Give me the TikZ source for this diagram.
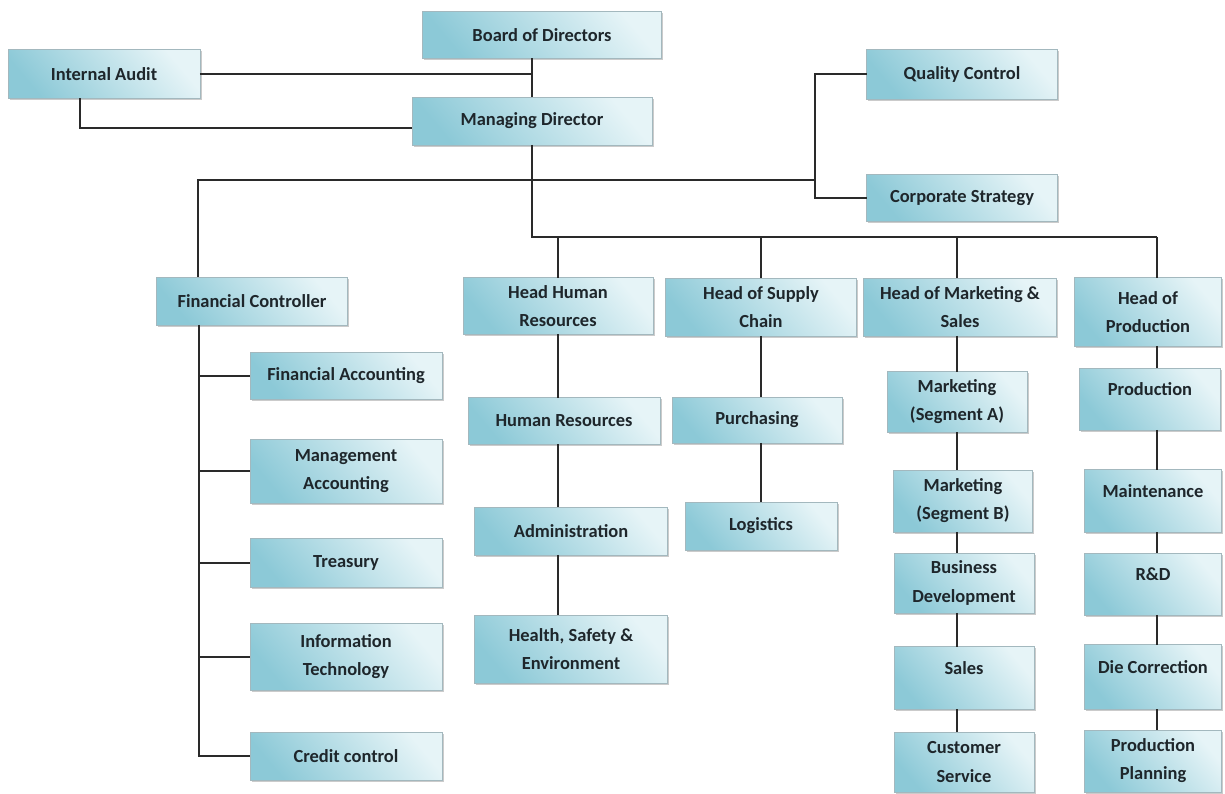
\documentclass[tikz,border=0pt]{standalone}
\usepackage{fontspec}
\setmainfont{Carlito}
\usetikzlibrary{shadows}
\definecolor{boxdark}{HTML}{8CC9D7}
\definecolor{boxlight}{HTML}{E6F4F7}
\definecolor{boxedge}{HTML}{A3B8BE}
\definecolor{linegray}{HTML}{2A2A2A}
\definecolor{textgray}{HTML}{1E262B}
\begin{document}
\begin{tikzpicture}[x=0.02cm,y=-0.02cm]
        \tikzstyle{unit}=[rectangle,draw=boxedge,line width=0.4pt,top color=boxlight,bottom color=boxdark,shading angle=-50,
                drop shadow={shadow xshift=1.1pt,shadow yshift=-1.1pt,fill=black!45,opacity=0.45},
                font=\fontsize{10.5}{16}\selectfont\bfseries,text=textgray,align=center,inner sep=2pt,outer sep=0pt]
        \tikzstyle{upper}=[text depth=11pt]
        \tikzstyle{link}=[draw,line width=0.9pt,linegray]
        \useasboundingbox (0,0) rectangle (1225,794);
        % top of the chart
        \node [unit,minimum width=4.78cm,minimum height=0.94cm] (bod) at (542,35) {Board of Directors};
        \node [unit,minimum width=3.84cm,minimum height=0.98cm] (ia) at (104,74) {Internal Audit};
        \node [unit,minimum width=4.80cm,minimum height=0.96cm] (md) at (532,121) {Managing Director};
        \node [unit,minimum width=3.82cm,minimum height=1.00cm] (qc) at (962,74) {Quality Control};
        \node [unit,minimum width=3.82cm,minimum height=0.94cm] (cs) at (962,198) {Corporate Strategy};
        % finance
        \node [unit,minimum width=3.82cm,minimum height=0.96cm] (fc) at (252,301) {Financial Controller};
        \node [unit,minimum width=3.84cm,minimum height=0.94cm] (fa) at (346,376) {Financial Accounting};
        \node [unit,minimum width=3.84cm,minimum height=1.28cm] (ma) at (346,471) {Management\\Accounting};
        \node [unit,minimum width=3.84cm,minimum height=0.98cm] (tr) at (346,563) {Treasury};
        \node [unit,minimum width=3.84cm,minimum height=1.34cm] (it) at (346,657) {Information\\Technology};
        \node [unit,minimum width=3.84cm,minimum height=0.96cm] (cc) at (346,756) {Credit control};
        % human resources
        \node [unit,minimum width=3.80cm,minimum height=1.14cm] (hhr) at (558,306) {Head Human\\Resources};
        \node [unit,minimum width=3.84cm,minimum height=0.94cm] (hr) at (564,421) {Human Resources};
        \node [unit,minimum width=3.86cm,minimum height=0.96cm] (ad) at (571,531) {Administration};
        \node [unit,minimum width=3.86cm,minimum height=1.36cm] (hse) at (571,649) {Health, Safety \&\\Environment};
        % supply chain
        \node [unit,minimum width=3.82cm,minimum height=1.16cm] (hsc) at (761,307) {Head of Supply\\Chain};
        \node [unit,minimum width=3.40cm,minimum height=0.92cm] (pu) at (757,420) {Purchasing};
        \node [unit,minimum width=3.04cm,minimum height=0.96cm] (lo) at (761,526) {Logistics};
        % marketing and sales
        \node [unit,minimum width=3.86cm,minimum height=1.16cm] (hms) at (960,307) {Head of Marketing \&\\Sales};
        \node [unit,minimum width=2.80cm,minimum height=1.22cm] (msa) at (957,402) {Marketing\\(Segment A)};
        \node [unit,minimum width=2.78cm,minimum height=1.24cm] (msb) at (963,501) {Marketing\\(Segment B)};
        \node [unit,minimum width=2.80cm,minimum height=1.20cm] (bd) at (964,583) {Business\\Development};
        \node [unit,upper,minimum width=2.80cm,minimum height=1.26cm] (sa) at (964,678) {Sales};
        \node [unit,minimum width=2.80cm,minimum height=1.20cm] (csv) at (964,762) {Customer\\Service};
        % production
        \node [unit,minimum width=2.94cm,minimum height=1.38cm] (hp) at (1148,312) {Head of\\Production};
        \node [unit,upper,minimum width=2.82cm,minimum height=1.24cm] (pr) at (1150,399) {Production};
        \node [unit,upper,minimum width=2.74cm,minimum height=1.26cm] (mt) at (1153,501) {Maintenance};
        \node [unit,upper,minimum width=2.74cm,minimum height=1.24cm] (rd) at (1153,584) {R\&D};
        \node [unit,upper,minimum width=2.74cm,minimum height=1.30cm] (dc) at (1153,677) {Die Correction};
        \node [unit,minimum width=2.74cm,minimum height=1.24cm] (pp) at (1153,761) {Production\\Planning};
        % where the lines meet
        \coordinate (qs) at (815,180);
        \coordinate (colF) at (198,180);
        \coordinate (bus) at (532,237);
        \coordinate (colH) at (558,237);
        \coordinate (colS) at (761,237);
        \coordinate (colM) at (957,237);
        \coordinate (colP) at (1157,237);
        \coordinate (colL) at (199,0);
        % lines
        \path[link] (md.north) -- (md.north |- bod.south);
        \path[link] (ia.east) -- (ia.east -| md.north);
        \path[link] ([xshift=-0.48cm]ia.south) |- ([yshift=-0.14cm]md.west);
        \path[link] (qc.west) -| (qs) |- (cs.west);
        \path[link] (qs) -- (colF) -- (colF |- fc.north);
        \path[link] (md.south) -- (bus) -- (colP);
        \path[link] (colH) -- (colH |- hhr.north);
        \path[link] (colS) -- (colS |- hsc.north);
        \path[link] (colM) -- (colM |- hms.north);
        \path[link] (colP) -- (colP |- hp.north);
        \path[link] (colL |- fc.south) -- (colL |- cc.west) -- (cc.west);
        \path[link] (colL |- fa.west) -- (fa.west);
        \path[link] (colL |- ma.west) -- (ma.west);
        \path[link] (colL |- tr.west) -- (tr.west);
        \path[link] (colL |- it.west) -- (it.west);
        \path[link] (colH |- hhr.south) -- (colH |- hr.north);
        \path[link] (colH |- hr.south) -- (colH |- ad.north);
        \path[link] (colH |- ad.south) -- (colH |- hse.north);
        \path[link] (colS |- hsc.south) -- (colS |- pu.north);
        \path[link] (colS |- pu.south) -- (colS |- lo.north);
        \path[link] (colM |- hms.south) -- (colM |- msa.north);
        \path[link] (colM |- msa.south) -- (colM |- msb.north);
        \path[link] (colM |- msb.south) -- (colM |- bd.north);
        \path[link] (colM |- bd.south) -- (colM |- sa.north);
        \path[link] (colM |- sa.south) -- (colM |- csv.north);
        \path[link] (colP |- hp.south) -- (colP |- pr.north);
        \path[link] (colP |- pr.south) -- (colP |- mt.north);
        \path[link] (colP |- mt.south) -- (colP |- rd.north);
        \path[link] (colP |- rd.south) -- (colP |- dc.north);
        \path[link] (colP |- dc.south) -- (colP |- pp.north);
\end{tikzpicture}
\end{document}
